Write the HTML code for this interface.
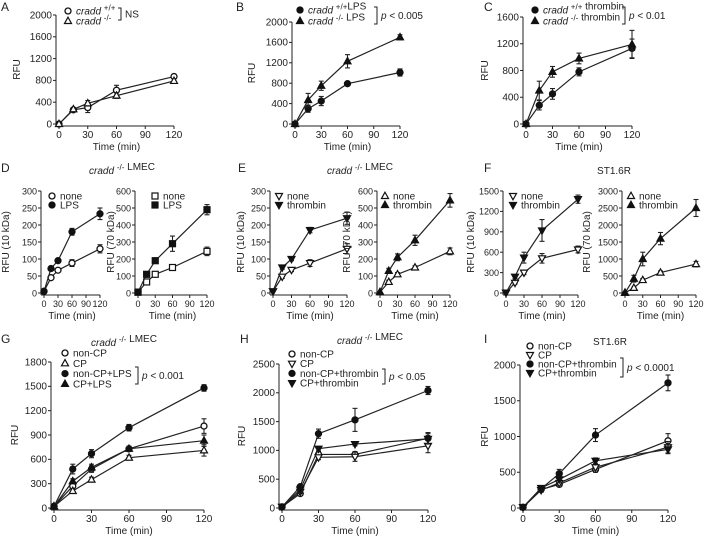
<!DOCTYPE html>
<html><head><meta charset="utf-8"><style>
body{margin:0;background:#fff}
svg{display:block;font-family:"Liberation Sans",Arial,sans-serif}
text{fill:#222}
</style></head><body>
<svg id="fig" width="713" height="537" viewBox="0 0 713 537" xmlns="http://www.w3.org/2000/svg"></svg>
<script>
const times=[0,15,30,60,120];
const xTicks=[0,30,60,90,120];
// Panel A
const aWT=[0,260,300,620,870], aWTe=[0,30,90,90,40];
const aKO=[0,270,380,520,790], aKOe=[0,30,50,50,40];
// Panel B
const bWT=[0,300,450,790,1010], bWTe=[0,70,90,30,70];
const bKO=[0,470,750,1230,1700], bKOe=[0,130,90,130,50];
// Panel C
const cWT=[0,280,450,780,1130], cWTe=[0,70,80,60,140];
const cKO=[0,500,780,980,1190], cKOe=[0,140,80,80,210];
// Panel D
const d1None=[5,45,67,88,130], d1NoneE=[0,5,5,10,12];
const d1LPS=[5,72,95,180,233], d1LPSe=[0,5,5,10,17];
const d2None=[5,65,110,150,245], d2NoneE=[0,10,10,10,25];
const d2LPS=[5,110,190,290,490], d2LPSe=[0,15,15,45,30];
// Panel E
const e1None=[5,48,68,88,130], e1NoneE=[0,5,5,10,15];
const e1Thr=[5,75,100,185,220], e1ThrE=[0,5,5,8,18];
const e2None=[5,65,110,150,245], e2NoneE=[0,10,10,10,20];
const e2Thr=[5,130,210,310,545], e2ThrE=[0,15,20,30,40];
// Panel F
const f1None=[5,150,300,510,640], f1NoneE=[0,20,30,70,50];
const f1Thr=[5,240,520,920,1380], f1ThrE=[0,30,80,160,60];
const f2None=[5,150,380,600,850], f2NoneE=[0,20,40,50,80];
const f2Thr=[5,420,1000,1600,2500], f2ThrE=[0,100,200,180,250];
// Panel G
const gNonCP=[20,270,480,730,1010], gNonCPe=[0,40,40,30,90];
const gCP=[20,210,350,620,710], gCPe=[0,30,30,30,70];
const gNonCPLPS=[20,480,670,990,1480], gNonCPLPSe=[0,60,50,40,40];
const gCPLPS=[20,330,500,730,830], gCPLPSe=[0,30,40,30,70];
// Panel H
const hNonCP=[20,250,930,930,1210], hNonCPe=[0,30,50,50,100];
const hCP=[20,280,880,890,1080], hCPe=[0,30,40,80,120];
const hNonCPThr=[20,370,1290,1530,2040], hNonCPThrE=[0,30,80,200,70];
const hCPThr=[20,320,1030,1110,1200], hCPThrE=[0,30,40,30,90];
// Panel I
const iNonCP=[10,260,330,540,940], iNonCPe=[0,30,30,40,100];
const iCP=[10,250,350,570,850], iCPe=[0,30,30,40,80];
const iNonCPThr=[10,270,480,1020,1750], iNonCPThrE=[0,30,60,90,110];
const iCPThr=[10,280,400,660,820], iCPThrE=[0,30,40,40,60];

const NS="http://www.w3.org/2000/svg";
const svg=document.getElementById('fig');
function el(tag,attrs,parent){const e=document.createElementNS(NS,tag);for(const k in attrs)e.setAttribute(k,attrs[k]);(parent||svg).appendChild(e);return e;}
function txt(x,y,s,size,anchor,parent,extra){const t=el('text',Object.assign({x:x,y:y,'font-size':size||10,'text-anchor':anchor||'start'},extra||{}),parent);t.textContent=s;return t;}
function marker(g,type,x,y){
  const r=3;let m;
  const fill=type.startsWith('f')?'#111':'#fff';
  const shape=type.slice(1);
  if(shape==='c')m=el('circle',{cx:x,cy:y,r:r,fill:fill,stroke:'#111','stroke-width':1.3},g);
  else if(shape==='s')m=el('rect',{x:x-r,y:y-r,width:2*r,height:2*r,fill:fill,stroke:'#111','stroke-width':1.2},g);
  else if(shape==='u')m=el('polygon',{points:`${x},${y-r-0.8} ${x-r-0.5},${y+r-0.5} ${x+r+0.5},${y+r-0.5}`,fill:fill,stroke:'#111','stroke-width':1.2},g);
  else m=el('polygon',{points:`${x},${y+r+0.8} ${x-r-0.5},${y-r+0.5} ${x+r+0.5},${y-r+0.5}`,fill:fill,stroke:'#111','stroke-width':1.2},g);
  return m;
}
function panel(p){
  const g=el('g',{});
  
  
  const fs=p.fs||10;
  const sx=t=>p.x0+t/120*(p.x1-p.x0);
  const sy=v=>p.y0-v/p.ymax*(p.y0-p.yt);
  const ax=p.x0-3, ay=p.y0+2;
  const axes=el('g',{stroke:'#222','stroke-width':1,fill:'none'},g);
  
  
  el('line',{x1:ax,y1:sy(p.ymax),x2:ax,y2:ay},axes);
  el('line',{x1:ax,y1:ay,x2:sx(120),y2:ay},axes);
  p.yticks.forEach(v=>{el('line',{x1:ax-3,y1:sy(v),x2:ax,y2:sy(v)},axes);
    const t=txt(ax-4,sy(v)+3.3,String(v),fs,'end',g);
    
    });
  xTicks.forEach(v=>{el('line',{x1:sx(v),y1:ay,x2:sx(v),y2:ay+3},axes);
    const t=txt(sx(v),ay+12,String(v),fs,'middle',g);
    
    });
  const xl=txt((p.x0+p.x1)/2,ay+24,'Time (min)',10,'middle',g);
  
  
  const yx=p.ylx, yy=(p.y0+p.yt)/2;
  const yl=txt(yx,yy,p.ylabel,10,'middle',g,{transform:`rotate(-90 ${yx} ${yy})`});
  
  
  p.series.forEach(s=>{
    const sg=el('g',{},g);
    
    
    const pts=times.map((t,i)=>sx(t)+','+sy(s.v[i])).join(' ');
    el('polyline',{points:pts,fill:'none',stroke:'#222','stroke-width':1.2},sg);
    times.forEach((t,i)=>{const e=s.e[i];if(e>0){const x=sx(t);
      el('line',{x1:x,y1:sy(s.v[i]-e),x2:x,y2:sy(s.v[i]+e),stroke:'#222','stroke-width':1.1},sg);
      el('line',{x1:x-2.5,y1:sy(s.v[i]+e),x2:x+2.5,y2:sy(s.v[i]+e),stroke:'#222','stroke-width':1.1},sg);
      el('line',{x1:x-2.5,y1:sy(s.v[i]-e),x2:x+2.5,y2:sy(s.v[i]-e),stroke:'#222','stroke-width':1.1},sg);}});
    times.forEach((t,i)=>{const m=marker(sg,s.m,sx(t),sy(s.v[i]));
      
      });
  });
  const lg=el('g',{},g);
  
  
  p.series.forEach((s,i)=>{const y=p.ly+i*p.lh;
    marker(lg,s.m,p.lx,y);
    const t=el('text',{x:p.lx+8,y:y+3.5,'font-size':10},lg);
    t.innerHTML=s.html||s.label;
    
    });
  if(p.br){const b=p.br;
    el('polyline',{points:`${b.x-3},${b.y1} ${b.x},${b.y1} ${b.x},${b.y2} ${b.x-3},${b.y2}`,fill:'none',stroke:'#222','stroke-width':1},lg);
    const t=el('text',{x:b.x+4,y:(b.y1+b.y2)/2+3.5,'font-size':10},lg);
    t.innerHTML=b.t;
    
    }
  if(p.title){const t=el('text',{x:p.title[0],y:p.title[1],'font-size':10,'text-anchor':'middle'},g);
    t.innerHTML=p.title[2];
    
    }
}
const cr='<tspan font-style="italic">cradd</tspan>';
const sup=s=>`<tspan font-size="8" dy="-4">${s}</tspan><tspan dy="4"></tspan>`;
const pv=s=>`<tspan font-style="italic">p</tspan> &lt; ${s}`;
const ko=cr+' '+sup('-/-')+' LMEC';
[['A',1,11],['B',236,11],['C',484,11],['D',1,172],['E',238,172],['F',484,172],['G',1,343],['H',240,343],['I',484,343]].forEach(a=>{
  const t=txt(a[1],a[2],a[0],12,'start');
  
  });

panel({name:'panel-a',x0:59,x1:174,y0:124,yt:15,ymax:2000,yticks:[0,400,800,1200,1600,2000],ylx:20,ylabel:'RFU',
 series:[{m:'oc',v:aWT,e:aWTe,label:'cradd +/+',html:cr+' '+sup('+/+')},{m:'ou',v:aKO,e:aKOe,label:'cradd -/-',html:cr+' '+sup('-/-')}],
 lx:68,ly:11,lh:10,br:{x:121,y1:8,y2:20,t:'NS'}});
panel({name:'panel-b',x0:295,x1:400,y0:124,yt:22,ymax:2000,yticks:[0,400,800,1200,1600,2000],ylx:255,ylabel:'RFU',
 series:[{m:'fc',v:bWT,e:bWTe,label:'cradd +/+ LPS',html:cr+' '+sup('+/+')+'LPS'},{m:'fu',v:bKO,e:bKOe,label:'cradd -/- LPS',html:cr+' '+sup('-/-')+' LPS'}],
 lx:300,ly:10,lh:11,br:{x:377,y1:7,y2:24,t:pv('0.005')}});
panel({name:'panel-c',x0:526,x1:632,y0:124,yt:17,ymax:1600,yticks:[0,400,800,1200,1600],ylx:488,ylabel:'RFU',
 series:[{m:'fc',v:cWT,e:cWTe,label:'cradd +/+ thrombin',html:cr+' '+sup('+/+')+' thrombin'},{m:'fu',v:cKO,e:cKOe,label:'cradd -/- thrombin',html:cr+' '+sup('-/-')+' thrombin'}],
 lx:535,ly:10,lh:11,br:{x:625,y1:7,y2:24,t:pv('0.01')}});

panel({name:'panel-d-10kda',fs:9,x0:44,x1:100,y0:293,yt:191,ymax:300,yticks:[0,50,100,150,200,250,300],ylx:9,ylabel:'RFU (10 kDa)',
 series:[{m:'oc',v:d1None,e:d1NoneE,label:'none'},{m:'fc',v:d1LPS,e:d1LPSe,label:'LPS'}],lx:52,ly:196,lh:9,
 title:[122,174,ko]});
panel({name:'panel-d-70kda',fs:9,x0:138,x1:207,y0:293,yt:191,ymax:600,yticks:[0,100,200,300,400,500,600],ylx:114,ylabel:'RFU (70 kDa)',
 series:[{m:'os',v:d2None,e:d2NoneE,label:'none'},{m:'fs',v:d2LPS,e:d2LPSe,label:'LPS'}],lx:155,ly:196,lh:9});
panel({name:'panel-e-10kda',fs:9,x0:273,x1:347,y0:293,yt:191,ymax:300,yticks:[0,50,100,150,200,250,300],ylx:244,ylabel:'RFU (10 kDa)',
 series:[{m:'od',v:e1None,e:e1NoneE,label:'none'},{m:'fd',v:e1Thr,e:e1ThrE,label:'thrombin'}],lx:279,ly:196,lh:9,
 title:[360,174,ko]});
panel({name:'panel-e-70kda',fs:9,x0:380,x1:450,y0:293,yt:191,ymax:600,yticks:[0,100,200,300,400,500,600],ylx:350,ylabel:'RFU (70 kDa)',
 series:[{m:'ou',v:e2None,e:e2NoneE,label:'none'},{m:'fu',v:e2Thr,e:e2ThrE,label:'thrombin'}],lx:385,ly:196,lh:9});
panel({name:'panel-f-10kda',fs:9,x0:506,x1:578,y0:293,yt:191,ymax:1500,yticks:[0,300,600,900,1200,1500],ylx:474,ylabel:'RFU (10 kDa)',
 series:[{m:'od',v:f1None,e:f1NoneE,label:'none'},{m:'fd',v:f1Thr,e:f1ThrE,label:'thrombin'}],lx:513,ly:196,lh:9,
 title:[614,174,'ST1.6R']});
panel({name:'panel-f-70kda',fs:9,x0:625,x1:696,y0:293,yt:191,ymax:3000,yticks:[0,500,1000,1500,2000,2500,3000],ylx:590,ylabel:'RFU (70 kDa)',
 series:[{m:'ou',v:f2None,e:f2NoneE,label:'none'},{m:'fu',v:f2Thr,e:f2ThrE,label:'thrombin'}],lx:631,ly:196,lh:9});

panel({name:'panel-g',x0:54,x1:204,y0:508,yt:362,ymax:1800,yticks:[0,300,600,900,1200,1500,1800],ylx:18,ylabel:'RFU',
 series:[{m:'oc',v:gNonCP,e:gNonCPe,label:'non-CP'},{m:'ou',v:gCP,e:gCPe,label:'CP'},{m:'fc',v:gNonCPLPS,e:gNonCPLPSe,label:'non-CP+LPS'},{m:'fu',v:gCPLPS,e:gCPLPSe,label:'CP+LPS'}],
 lx:65,ly:353,lh:10.3,br:{x:138,y1:367,y2:384,t:pv('0.001')},title:[124,346,ko]});
panel({name:'panel-h',x0:282,x1:428,y0:508,yt:364,ymax:2500,yticks:[0,500,1000,1500,2000,2500],ylx:245,ylabel:'RFU',
 series:[{m:'oc',v:hNonCP,e:hNonCPe,label:'non-CP'},{m:'od',v:hCP,e:hCPe,label:'CP'},{m:'fc',v:hNonCPThr,e:hNonCPThrE,label:'non-CP+thrombin'},{m:'fd',v:hCPThr,e:hCPThrE,label:'CP+thrombin'}],
 lx:292,ly:354,lh:9.7,br:{x:385,y1:369,y2:384,t:pv('0.05')},title:[370,344,ko]});
panel({name:'panel-i',x0:523,x1:668,y0:508,yt:365,ymax:2000,yticks:[0,500,1000,1500,2000],ylx:488,ylabel:'RFU',
 series:[{m:'oc',v:iNonCP,e:iNonCPe,label:'non-CP'},{m:'od',v:iCP,e:iCPe,label:'CP'},{m:'fc',v:iNonCPThr,e:iNonCPThrE,label:'non-CP+thrombin'},{m:'fd',v:iCPThr,e:iCPThrE,label:'CP+thrombin'}],
 lx:530,ly:346,lh:9,br:{x:623,y1:358,y2:377,t:pv('0.0001')},title:[610,345,'ST1.6R']});
</script>
</body></html>
